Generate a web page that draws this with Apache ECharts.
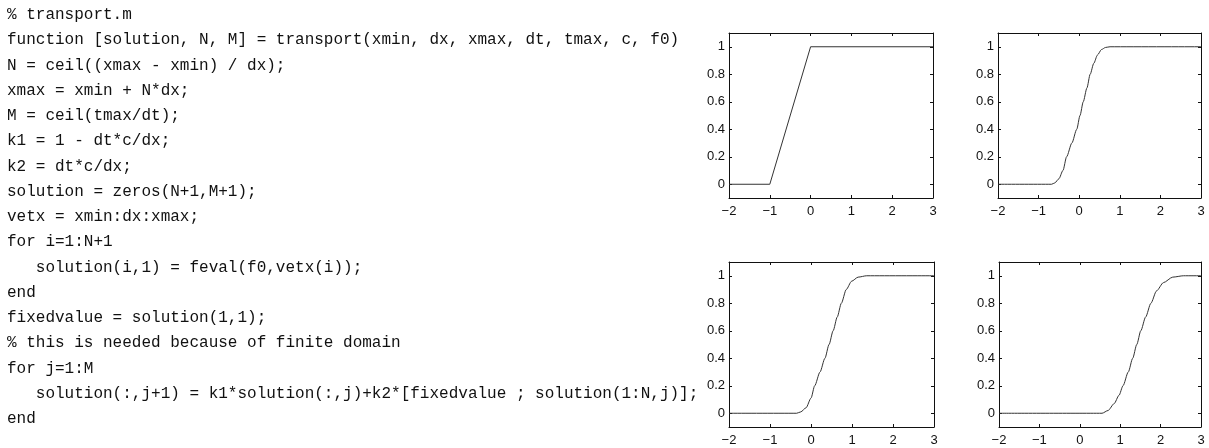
<!DOCTYPE html>
<html><head><meta charset="utf-8">
<script src="https://cdn.jsdelivr.net/npm/echarts@6/dist/echarts.min.js"></script>
<style>html,body{margin:0;padding:0;background:#fff}#c{width:1209px;height:448px}</style>
</head><body><div id="c"></div>
<script>
const codeLines = [
  "% transport.m",
  "function [solution, N, M] = transport(xmin, dx, xmax, dt, tmax, c, f0)",
  "N = ceil((xmax - xmin) / dx);",
  "xmax = xmin + N*dx;",
  "M = ceil(tmax/dt);",
  "k1 = 1 - dt*c/dx;",
  "k2 = dt*c/dx;",
  "solution = zeros(N+1,M+1);",
  "vetx = xmin:dx:xmax;",
  "for i=1:N+1",
  "   solution(i,1) = feval(f0,vetx(i));",
  "end",
  "fixedvalue = solution(1,1);",
  "% this is needed because of finite domain",
  "for j=1:M",
  "   solution(:,j+1) = k1*solution(:,j)+k2*[fixedvalue ; solution(1:N,j)];",
  "end"
];
const xTicks = [-2, -1, 0, 1, 2, 3];
const yTicks = [0, 0.2, 0.4, 0.6, 0.8, 1];
const xTickLabels = ["\u22122", "\u22121", "0", "1", "2", "3"];
const yTickLabels = ["0", "0.2", "0.4", "0.6", "0.8", "1"];

const p1X = [-2, -1, 0, 3];
const p1Y = [0, 0, 1, 1];
const p2X = [-2, -0.68, -0.6, -0.5, -0.4, -0.31, -0.18, -0.06, 0.02, 0.1, 0.19, 0.27, 0.36, 0.45, 0.55, 0.65, 0.76, 3];
const p2Y = [0, 0, 0.01, 0.04, 0.1, 0.2, 0.3, 0.4, 0.5, 0.6, 0.7, 0.8, 0.88, 0.94, 0.98, 0.995, 1, 1];
const p3X = [-2, -0.35, -0.25, -0.12, 0.0, 0.09, 0.22, 0.34, 0.44, 0.54, 0.64, 0.74, 0.86, 0.99, 1.15, 1.36, 3];
const p3Y = [0, 0, 0.01, 0.04, 0.11, 0.2, 0.3, 0.4, 0.5, 0.6, 0.7, 0.8, 0.9, 0.96, 0.99, 1, 1];
const p4X = [-2, 0.55, 0.7, 0.85, 0.97, 1.07, 1.2, 1.31, 1.41, 1.51, 1.63, 1.76, 1.9, 2.07, 2.3, 2.57, 3];
const p4Y = [0, 0, 0.02, 0.07, 0.13, 0.2, 0.3, 0.4, 0.5, 0.6, 0.7, 0.8, 0.89, 0.95, 0.99, 1, 1];
const panels = [[p1X, p1Y], [p2X, p2Y], [p3X, p3Y], [p4X, p4Y]];
const panelSmooth = [false, 0.25, 0.25, 0.25];

const grids = [
  {left: 729, top: 33, width: 204, height: 165},
  {left: 998, top: 33, width: 203, height: 165},
  {left: 729, top: 262, width: 205, height: 165},
  {left: 999, top: 262, width: 202, height: 165}
];

const lineStyle = {color: '#111', width: 1};
const labelFont = {fontFamily: 'Liberation Sans', fontSize: 13, color: '#111'};
const xAxes = [], yAxes = [], series = [];
grids.forEach((g, i) => {
  xAxes.push({
    type: 'value', gridIndex: i, min: -2, max: 3, interval: 1, position: 'bottom',
    axisLine: {show: true, onZero: false, lineStyle},
    axisTick: {show: true, inside: true, length: 3, lineStyle},
    axisLabel: Object.assign({margin: 7, formatter: v => xTickLabels[xTicks.indexOf(Math.round(v))]}, labelFont),
    splitLine: {show: false}
  });
  xAxes.push({
    type: 'value', gridIndex: i, min: -2, max: 3, interval: 1, position: 'top',
    axisLine: {show: true, onZero: false, lineStyle},
    axisTick: {show: true, inside: true, length: 3, lineStyle},
    axisLabel: {show: false}, splitLine: {show: false}
  });
  yAxes.push({
    type: 'value', gridIndex: i, min: -0.1, max: 1.1, position: 'left',
    axisLine: {show: true, onZero: false, lineStyle},
    axisTick: {show: true, inside: true, length: 3, lineStyle, customValues: yTicks},
    axisLabel: Object.assign({margin: 4, customValues: yTicks,
      formatter: v => yTickLabels[yTicks.findIndex(t => Math.abs(t - v) < 1e-6)]}, labelFont),
    splitLine: {show: false}
  });
  yAxes.push({
    type: 'value', gridIndex: i, min: -0.1, max: 1.1, position: 'right',
    axisLine: {show: true, onZero: false, lineStyle},
    axisTick: {show: true, inside: true, length: 3, lineStyle, customValues: yTicks},
    axisLabel: {show: false}, splitLine: {show: false}
  });
  const [xs, ys] = panels[i];
  series.push({
    type: 'line', xAxisIndex: i * 2, yAxisIndex: i * 2,
    data: xs.map((x, k) => [x, ys[k]]),
    smooth: panelSmooth[i], smoothMonotone: 'x', showSymbol: false, symbol: 'none',
    lineStyle: {color: '#333', width: 1}, animation: false, silent: true
  });
});

const graphics = codeLines.map((t, i) => ({
  type: 'text', left: 7, top: 16.5 + i * 25.25 - 9.5,
  style: {text: t, font: '16px "Liberation Mono"', fill: '#111'}
}));

const chart = echarts.init(document.getElementById('c'), null, {renderer: 'canvas'});
chart.setOption({
  animation: false,
  backgroundColor: '#fff',
  grid: grids.map(g => Object.assign({containLabel: false}, g)),
  xAxis: xAxes, yAxis: yAxes, series,
  graphic: graphics
});
</script></body></html>
